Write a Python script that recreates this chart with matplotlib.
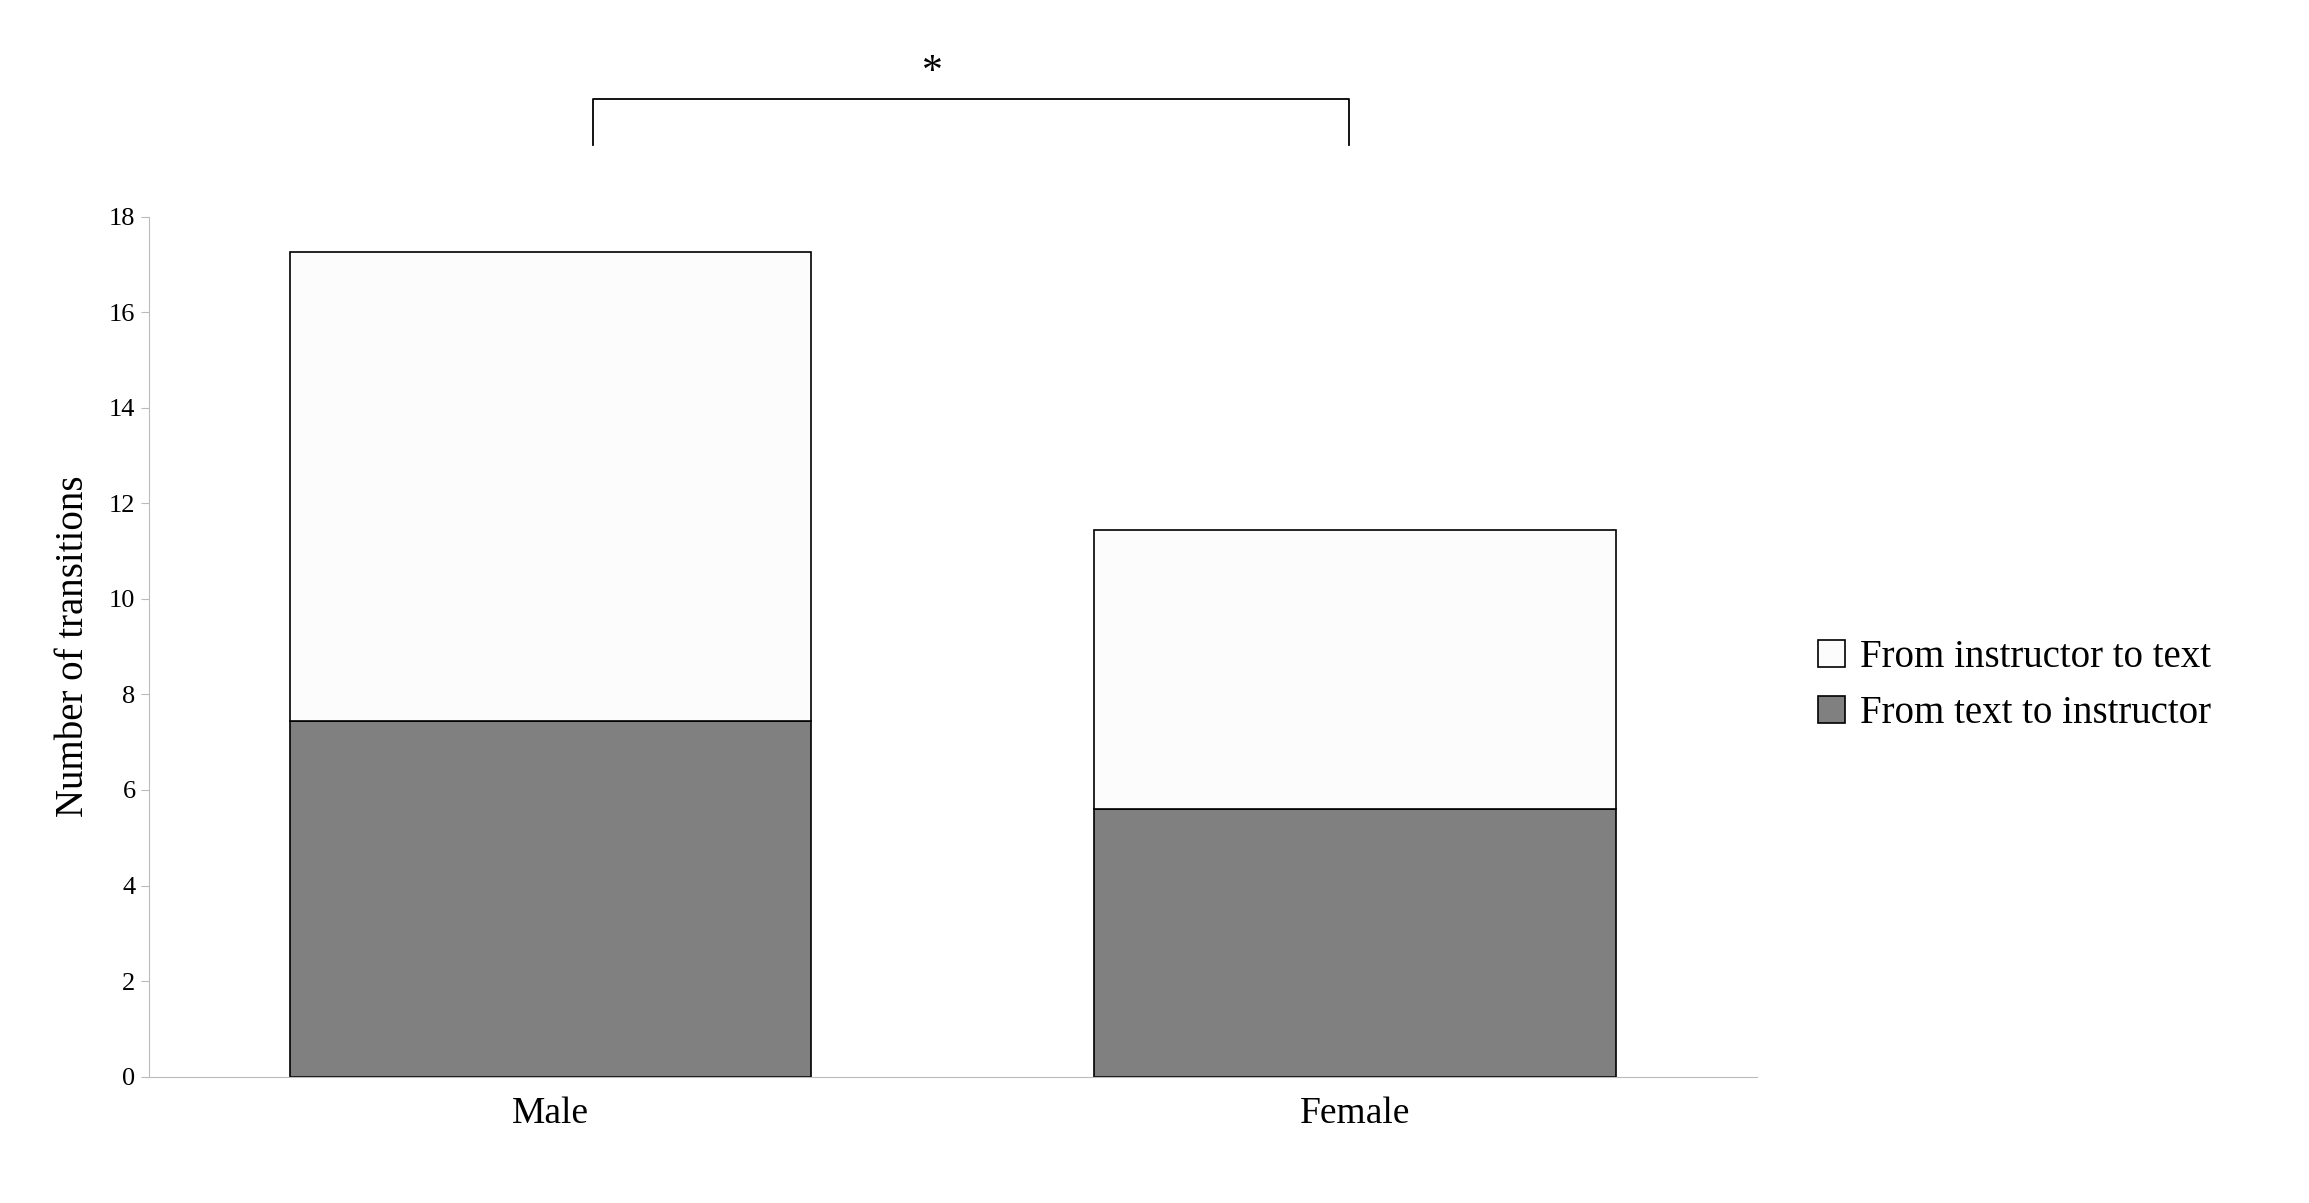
import numpy as np
import matplotlib.pyplot as plt

plt.rcParams['font.family'] = ['Liberation Serif', 'DejaVu Serif']

groups = ["Male", "Female"]
text_to_instructor = [7.45, 5.6]
instructor_to_text = [9.8, 5.85]

fig = plt.figure(figsize=(23.09, 12.03), dpi=100)
ax = fig.add_axes([0.0644, 0.105, 0.6966, 0.715])

x = np.arange(len(groups))
b1 = ax.bar(x, text_to_instructor, width=0.648, color='#808080', edgecolor='black', linewidth=1.2,
            label='From text to instructor')
b2 = ax.bar(x, instructor_to_text, width=0.648, bottom=text_to_instructor, color='#fcfcfc',
            edgecolor='black', linewidth=1.2, label='From instructor to text')

ax.set_xlim(-0.5, 1.5)
ax.set_ylim(0, 18)
ax.set_yticks(range(0, 19, 2))
ax.set_xticks(x)
ax.set_xticklabels(groups, fontsize=27)
ax.tick_params(axis='y', labelsize=19, length=6, color='#bbbbbb')
ax.tick_params(axis='x', length=0, pad=14)
ax.set_ylabel('Number of transitions', fontsize=28, labelpad=12)
for s in ['top', 'right']:
    ax.spines[s].set_visible(False)
for s in ['left', 'bottom']:
    ax.spines[s].set_color('#bbbbbb')

# significance bracket
ax.plot([0.053, 0.053, 0.993, 0.993], [19.5, 20.47, 20.47, 19.5], color='black', lw=1.3, clip_on=False)
ax.text(0.475, 20.6, '*', ha='center', va='bottom', fontsize=30, clip_on=False)

fig.legend(handles=[b2, b1], loc='center left', bbox_to_anchor=(0.772, 0.43), frameon=False,
           fontsize=28, handlelength=0.7, handleheight=0.7, handletextpad=0.4, labelspacing=0.5)

fig.savefig('out.png', dpi=100)
